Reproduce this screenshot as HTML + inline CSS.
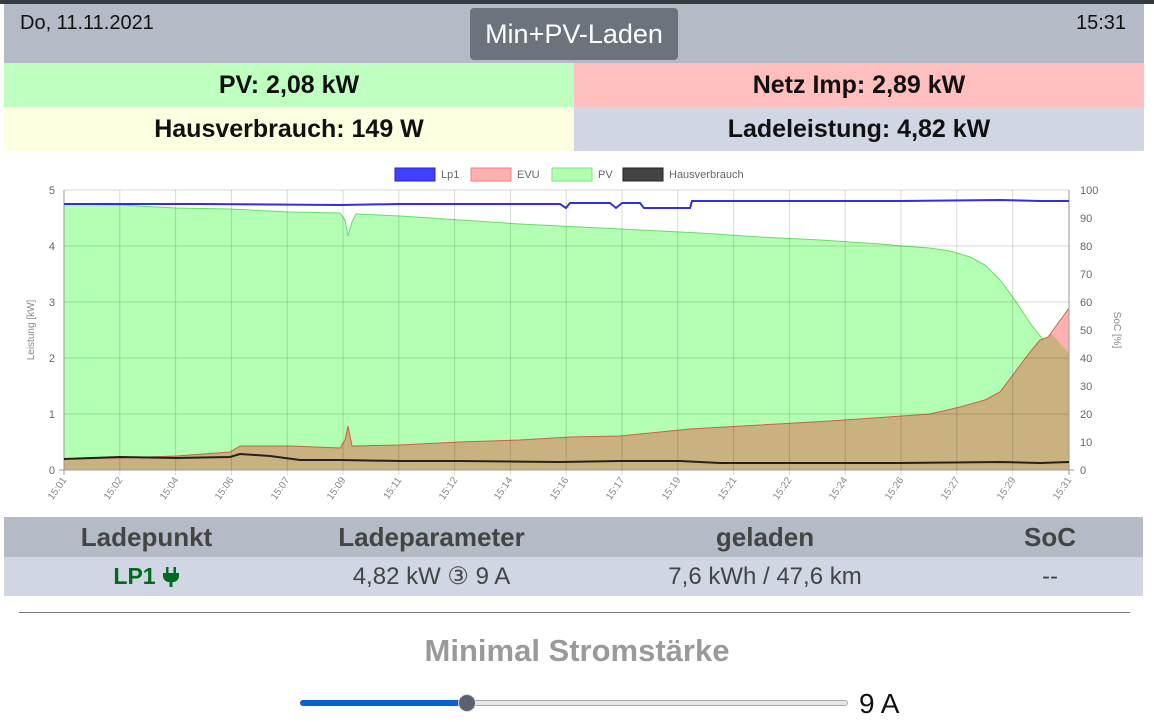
<!DOCTYPE html>
<html><head><meta charset="utf-8"><style>
body{margin:0;width:1154px;height:722px;background:#fff;font-family:"Liberation Sans",sans-serif;position:relative;overflow:hidden}
.a{position:absolute}
.c{display:flex;align-items:center;justify-content:center;font-weight:bold;font-size:25px;color:#111}
</style></head><body>
<div class="a" style="left:0;top:0;width:1154px;height:4px;background:#343a40"></div>
<div class="a" style="left:4px;top:4px;width:1140px;height:59px;background:#b5bac7"></div>
<div class="a" style="left:20px;top:12px;font-size:20px;color:#111">Do, 11.11.2021</div>
<div class="a" style="left:1076px;top:12px;font-size:20px;color:#111">15:31</div>
<div class="a c" style="left:470px;top:8px;width:208px;height:52px;background:#6c737d;border-radius:4px;color:#fff;font-weight:normal;font-size:27px">Min+PV-Laden</div>
<div class="a c" style="left:4px;top:63px;width:570px;height:44px;background:#bfffbf">PV: 2,08 kW</div>
<div class="a c" style="left:574px;top:63px;width:570px;height:44px;background:#ffbfbf">Netz Imp: 2,89 kW</div>
<div class="a c" style="left:4px;top:107px;width:570px;height:44px;background:#fefee0">Hausverbrauch: 149 W</div>
<div class="a c" style="left:574px;top:107px;width:570px;height:44px;background:#d0d6e4">Ladeleistung: 4,82 kW</div>
<svg class="a" style="left:0;top:155px" width="1154" height="360" viewBox="0 155 1154 360" font-family="Liberation Sans,sans-serif">
<g font-size="11" fill="#666">
<rect x="395" y="168" width="40" height="13" fill="#4040ff" stroke="#2020d0"/><text x="441" y="178">Lp1</text>
<rect x="471" y="168" width="40" height="13" fill="#ffb0b0" stroke="#f08080"/><text x="517" y="178">EVU</text>
<rect x="552" y="168" width="40" height="13" fill="#b0ffb0" stroke="#80e080"/><text x="598" y="178">PV</text>
<rect x="623" y="168" width="40" height="13" fill="#444" stroke="#222"/><text x="669" y="178">Hausverbrauch</text>
</g>
<polygon fill="#b3ffb3" stroke="#66dd66" stroke-width="1" points="64,470 64,204 120,205 176,208 230,209 290,212 340,213 345,220 348,236 352,222 356,214 400,216 460,220 520,224 580,227 640,230 700,233 760,237 820,240 880,244 902,246 930,248 950,251 970,257 985,265 1000,280 1015,300 1030,323 1045,342 1069,353 1069,470"/>
<polygon fill="#c9b27f" points="64,470 64,459 120,458 176,456 230,452 240,446 290,446 340,448 345,440 348,426 352,446 400,445 460,442 520,440 570,437 620,436 690,429 760,425 830,421 902,416 930,414 960,407 985,400 1000,392 1015,372 1030,352 1040,340 1048,337 1051,333 1069,353 1069,470"/>
<polygon fill="#ffb0b0" points="1051,333 1069,308 1069,353"/>
<polyline fill="none" stroke="#d06040" stroke-width="1" points="64,459 120,458 176,456 230,452 240,446 290,446 340,448 345,440 348,426 352,446 400,445 460,442 520,440 570,437 620,436 690,429 760,425 830,421 902,416 930,414 960,407 985,400 1000,392 1015,372 1030,352 1040,340 1048,337 1051,333 1069,308"/>
<g stroke="rgba(0,0,0,0.15)" stroke-width="1">
<line x1="64" y1="190" x2="1069" y2="190"/><line x1="64" y1="246" x2="1069" y2="246"/><line x1="64" y1="302" x2="1069" y2="302"/><line x1="64" y1="358" x2="1069" y2="358"/><line x1="64" y1="414" x2="1069" y2="414"/>
<line x1="119.8" y1="190" x2="119.8" y2="475"/><line x1="175.6" y1="190" x2="175.6" y2="475"/><line x1="231.4" y1="190" x2="231.4" y2="475"/><line x1="287.2" y1="190" x2="287.2" y2="475"/><line x1="343" y1="190" x2="343" y2="475"/><line x1="398.8" y1="190" x2="398.8" y2="475"/><line x1="454.6" y1="190" x2="454.6" y2="475"/><line x1="510.4" y1="190" x2="510.4" y2="475"/><line x1="566.2" y1="190" x2="566.2" y2="475"/><line x1="622" y1="190" x2="622" y2="475"/><line x1="677.8" y1="190" x2="677.8" y2="475"/><line x1="733.6" y1="190" x2="733.6" y2="475"/><line x1="789.4" y1="190" x2="789.4" y2="475"/><line x1="845.2" y1="190" x2="845.2" y2="475"/><line x1="901" y1="190" x2="901" y2="475"/><line x1="956.8" y1="190" x2="956.8" y2="475"/><line x1="1012.6" y1="190" x2="1012.6" y2="475"/>
</g>
<g stroke="#999"><line x1="64" y1="190" x2="64" y2="475"/><line x1="1069" y1="190" x2="1069" y2="475"/><line x1="59" y1="470" x2="1074" y2="470"/></g>
<polyline fill="none" stroke="#222" stroke-width="2" points="64,459 120,457 176,458 230,457 240,454 270,456 300,460 340,460 400,461 460,461 560,462 620,461 680,461 720,463 800,463 900,463 1000,462 1040,463 1069,462"/>
<polyline fill="none" stroke="#3030e0" stroke-width="2" points="64,204 200,204 340,205 400,204 560,204 566,208 570,203 610,203 616,208 622,203 640,203 644,208 690,208 692,201 800,201 900,201 1000,200 1040,201 1069,201"/>
<g font-size="11" fill="#666" text-anchor="end">
<text x="55" y="194">5</text><text x="55" y="250">4</text><text x="55" y="306">3</text><text x="55" y="362">2</text><text x="55" y="418">1</text><text x="55" y="474">0</text>
</g>
<g font-size="11" fill="#666">
<text x="1080" y="194">100</text><text x="1080" y="222">90</text><text x="1080" y="250">80</text><text x="1080" y="278">70</text><text x="1080" y="306">60</text><text x="1080" y="334">50</text><text x="1080" y="362">40</text><text x="1080" y="390">30</text><text x="1080" y="418">20</text><text x="1080" y="446">10</text><text x="1080" y="474">0</text>
</g>
<text transform="translate(34,330) rotate(-90)" font-size="10" fill="#888" text-anchor="middle">Leistung [kW]</text>
<text transform="translate(1114,330) rotate(90)" font-size="10" fill="#888" text-anchor="middle">SoC [%]</text>
<g font-size="10" fill="#888" text-anchor="end">
<text transform="translate(67,480) rotate(-55)">15:01</text><text transform="translate(123,480) rotate(-55)">15:02</text><text transform="translate(179,480) rotate(-55)">15:04</text><text transform="translate(234,480) rotate(-55)">15:06</text><text transform="translate(290,480) rotate(-55)">15:07</text><text transform="translate(346,480) rotate(-55)">15:09</text><text transform="translate(402,480) rotate(-55)">15:11</text><text transform="translate(458,480) rotate(-55)">15:12</text><text transform="translate(513,480) rotate(-55)">15:14</text><text transform="translate(569,480) rotate(-55)">15:16</text><text transform="translate(625,480) rotate(-55)">15:17</text><text transform="translate(681,480) rotate(-55)">15:19</text><text transform="translate(737,480) rotate(-55)">15:21</text><text transform="translate(792,480) rotate(-55)">15:22</text><text transform="translate(848,480) rotate(-55)">15:24</text><text transform="translate(904,480) rotate(-55)">15:26</text><text transform="translate(960,480) rotate(-55)">15:27</text><text transform="translate(1016,480) rotate(-55)">15:29</text><text transform="translate(1072,480) rotate(-55)">15:31</text>
</g>
</svg>
<div class="a" style="left:4px;top:517px;width:1139px;height:40px;background:#b5bac7"></div>
<div class="a" style="left:4px;top:557px;width:1139px;height:39px;background:#d0d6e4"></div>
<div class="a c" style="left:4px;top:517px;width:285px;height:40px;color:#444;font-size:26px">Ladepunkt</div>
<div class="a c" style="left:289px;top:517px;width:285px;height:40px;color:#444;font-size:26px">Ladeparameter</div>
<div class="a c" style="left:620px;top:517px;width:290px;height:40px;color:#444;font-size:26px">geladen</div>
<div class="a c" style="left:960px;top:517px;width:180px;height:40px;color:#444;font-size:26px">SoC</div>
<div class="a c" style="left:4px;top:557px;width:285px;height:39px;color:#006b1f;font-size:23px">LP1 <svg width="18" height="22" viewBox="0 0 18 22" style="margin-left:6px"><rect x="4" y="1" width="2.5" height="6" fill="#006b1f"/><rect x="11.5" y="1" width="2.5" height="6" fill="#006b1f"/><path d="M1 7h16v3a6 6 0 0 1-6 6h-0.5v5h-3v-5H7a6 6 0 0 1-6-6z" fill="#006b1f"/></svg></div>
<div class="a c" style="left:289px;top:557px;width:285px;height:39px;color:#444;font-weight:normal;font-size:24px">4,82 kW ③ 9 A</div>
<div class="a c" style="left:620px;top:557px;width:290px;height:39px;color:#444;font-weight:normal;font-size:24px">7,6 kWh / 47,6 km</div>
<div class="a c" style="left:960px;top:557px;width:180px;height:39px;color:#444;font-weight:normal;font-size:24px">--</div>
<div class="a" style="left:19px;top:612px;width:1111px;height:1px;background:#777"></div>
<div class="a c" style="left:0;top:630px;width:1154px;height:42px;color:#9a9a9a;font-size:31px">Minimal Stromstärke</div>
<div class="a" style="left:300px;top:700px;width:548px;height:6px;border-radius:3px;background:#e6e6e6;border:1px solid #aaa;box-sizing:border-box"></div>
<div class="a" style="left:300px;top:700px;width:168px;height:6px;border-radius:3px;background:#0a62d0"></div>
<div class="a" style="left:458px;top:694px;width:18px;height:18px;border-radius:50%;background:#5c6170;border:1px solid #ddd;box-sizing:border-box"></div>
<div class="a" style="left:859px;top:688px;font-size:28px;color:#111">9 A</div>
</body></html>
